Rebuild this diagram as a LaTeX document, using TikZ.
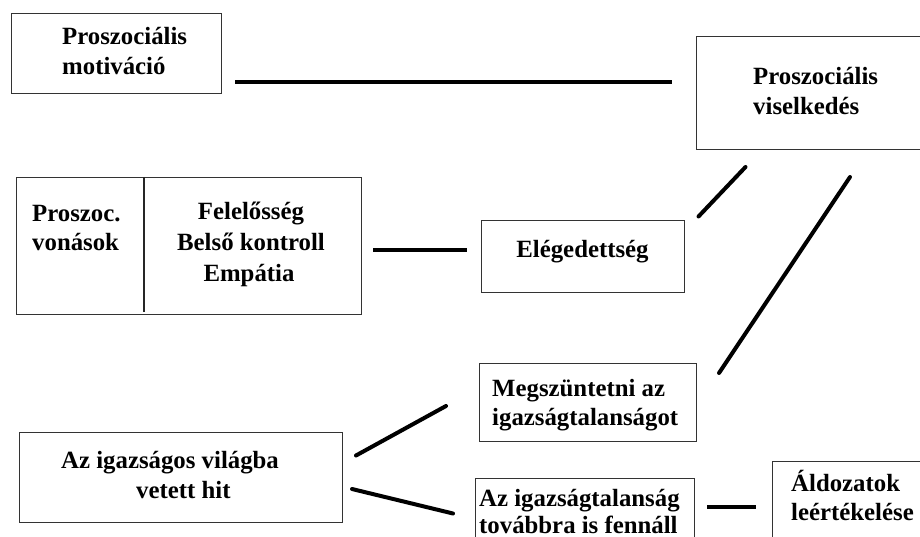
\documentclass[tikz,border=0pt]{standalone}
\usepackage{fontspec}
\setmainfont{Liberation Serif}
\begin{document}
\begin{tikzpicture}[x=1pt,y=-1pt,
  box/.style={draw=black!80,line width=1.3pt,anchor=north west,inner sep=0pt},
  txt/.style={font=\fontsize{24.8}{30}\selectfont\bfseries,inner sep=0pt,anchor=base west},
  ctxt/.style={txt,anchor=base},
  conn/.style={line width=4.5pt,black},
  dconn/.style={conn,line width=4pt,line cap=round}]
\useasboundingbox (0,0) rectangle (920,537);
\clip (0,0) rectangle (920,537);
% boxes
\node[box,minimum width=210pt,minimum height=80pt] (pm) at (11,13) {};
\node[box,minimum width=240pt,minimum height=113pt] (pv) at (696,36) {};
\node[box,minimum width=345pt,minimum height=137pt] (pt) at (16,177) {};
\coordinate (divt) at (144,177);
\coordinate (divb) at (144,312);
\draw[black!85,line width=1.3pt] (divt) -- (divb);
\node[box,minimum width=203pt,minimum height=72pt] (el) at (481,220) {};
\node[box,minimum width=217pt,minimum height=78pt] (mg) at (479,363) {};
\node[box,minimum width=323pt,minimum height=90pt] (ih) at (19,432) {};
\node[box,minimum width=219pt,minimum height=80pt] (it) at (475,478) {};
\node[box,minimum width=180pt,minimum height=100pt] (al) at (772,461) {};
% texts
\node[txt] (pm1) at (62,45) {Proszociális};
\node[txt] (pm2) at (62,75) {motiváció};
\node[txt] (pv1) at (753,85) {Proszociális};
\node[txt] (pv2) at (753,115) {viselkedés};
\node[txt] (pt1) at (32,221.5) {Proszoc.};
\node[txt] (pt2) at (32,250.5) {vonások};
\node[ctxt] (pt3) at (251,220) {Felelősség};
\node[ctxt] (pt4) at (251,250.5) {Belső kontroll};
\node[ctxt] (pt5) at (249,281.5) {Empátia};
\node[ctxt] (el1) at (582.5,258) {Elégedettség};
\node[txt] (mg1) at (492,396.5) {Megszüntetni az};
\node[txt] (mg2) at (492,425) {igazságtalanságot};
\node[txt] (ih1) at (61,468.5) {Az igazságos világba};
\node[txt] (ih2) at (136,498) {vetett hit};
\node[txt] (it1) at (479,506.5) {Az igazságtalanság};
\node[txt] (it2) at (479,533) {továbbra is fennáll};
\node[txt] (al1) at (791,491) {Áldozatok};
\node[txt] (al2) at (791,520) {leértékelése};
% connector end points
\coordinate (c1a) at (235,82);
\coordinate (c1b) at (672,82);
\coordinate (c2a) at (373,250);
\coordinate (c2b) at (467,250);
\coordinate (c3a) at (698.5,216.5);
\coordinate (c3b) at (745.5,167);
\coordinate (c4a) at (719,373);
\coordinate (c4b) at (850,177);
\coordinate (c5a) at (356,455.5);
\coordinate (c5b) at (446,406);
\coordinate (c6a) at (352,489);
\coordinate (c6b) at (453,513.5);
\coordinate (c7a) at (707,507);
\coordinate (c7b) at (756,507);
% connectors
\draw[conn] (c1a) -- (c1b);
\draw[conn] (c2a) -- (c2b);
\draw[dconn] (c3a) -- (c3b);
\draw[dconn] (c4a) -- (c4b);
\draw[dconn] (c5a) -- (c5b);
\draw[dconn] (c6a) -- (c6b);
\draw[conn] (c7a) -- (c7b);
\end{tikzpicture}
\end{document}
